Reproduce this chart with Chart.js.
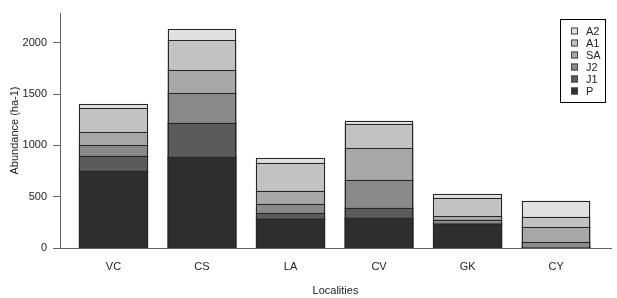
<!DOCTYPE html>
<html>
<head>
<meta charset="utf-8">
<script src="https://cdn.jsdelivr.net/npm/chart.js@4.4.1/dist/chart.umd.min.js"></script>
<style>
  html, body { margin: 0; padding: 0; background: #fff; }
  #wrap { width: 617px; height: 298px; position: relative; }
</style>
</head>
<body>
<div id="wrap"><canvas id="chart"></canvas></div>
<script>
// Localities on the x axis
const localities = ['VC', 'CS', 'LA', 'CV', 'GK', 'CY'];

// Abundance per stage (ha-1), bottom to top of each stack
const P  = [747, 884, 283, 289, 234, 0];
const J1 = [146, 331, 55, 98, 0, 0];
const J2 = [107, 292, 88, 273, 39, 56];
const SA = [127, 224, 129, 311, 36, 146];
const A1 = [234, 292, 273, 234, 175, 100];
const A2 = [39, 108, 46, 32, 39, 156];

const yTicks = [0, 500, 1000, 1500, 2000];

const stages = [
  { label: 'P',  values: P,  color: '#2e2e2e' },
  { label: 'J1', values: J1, color: '#5b5b5b' },
  { label: 'J2', values: J2, color: '#8a8a8a' },
  { label: 'SA', values: SA, color: '#a7a7a7' },
  { label: 'A1', values: A1, color: '#c2c2c2' },
  { label: 'A2', values: A2, color: '#e0e0e0' }
];

const textColor = '#222';
const fontBase = { family: "'Liberation Sans', Arial, sans-serif", size: 11 };

// Crisp 1px outline around every stacked segment
const segmentEdges = {
  id: 'segmentEdges',
  afterDatasetsDraw(chart) {
    const ctx = chart.ctx;
    ctx.save();
    ctx.strokeStyle = '#262626';
    ctx.lineWidth = 1;
    chart.data.datasets.forEach(function (ds, di) {
      chart.getDatasetMeta(di).data.forEach(function (bar) {
        if (Math.abs(bar.base - bar.y) < 0.5) return;
        const l = Math.round(bar.x - bar.width / 2) + 0.5;
        const r = Math.round(bar.x + bar.width / 2) - 0.5;
        const t = Math.round(bar.y) + 0.5;
        const b = Math.round(bar.base) + 0.5;
        ctx.strokeRect(l, t, r - l, b - t);
      });
    });
    ctx.restore();
  }
};

// Legend box drawn inside the plot, top right
const boxLegend = {
  id: 'boxLegend',
  afterDraw(chart) {
    const ctx = chart.ctx;
    const sets = chart.data.datasets.slice().reverse();
    const x0 = 560.5, y0 = 19.5, w = 45, h = 83;
    ctx.save();
    ctx.strokeStyle = '#000';
    ctx.lineWidth = 1;
    ctx.strokeRect(x0, y0, w, h);
    ctx.font = '11px ' + fontBase.family;
    ctx.textBaseline = 'middle';
    ctx.textAlign = 'left';
    sets.forEach(function (ds, i) {
      const cy = 31 + i * 12;
      ctx.fillStyle = ds.backgroundColor;
      ctx.fillRect(571, cy - 3.5, 7, 7);
      ctx.strokeStyle = '#444';
      ctx.strokeRect(571.5, cy - 3, 6, 6);
      ctx.fillStyle = textColor;
      ctx.fillText(ds.label, 586, cy + 0.5);
    });
    ctx.restore();
  }
};

const ctx = document.getElementById('chart').getContext('2d');
const myChart = new Chart(ctx, {
  type: 'bar',
  data: {
    datasets: stages.map(function (s) {
      return {
        label: s.label,
        data: s.values.map(function (v, i) { return { x: i, y: v }; }),
        backgroundColor: s.color,
        borderWidth: 0,
        inflateAmount: 0.5,
        categoryPercentage: 1,
        barPercentage: 0.773
      };
    })
  },
  options: {
    responsive: true,
    maintainAspectRatio: false,
    animation: false,
    layout: { padding: { left: 0, right: 6, top: 13, bottom: 0 } },
    plugins: {
      legend: { display: false },
      tooltip: { enabled: false }
    },
    scales: {
      x: {
        type: 'linear',
        stacked: true,
        offset: false,
        min: -0.604,
        max: 5.62,
        grid: { display: false },
        border: { display: true, color: '#666', width: 1, z: 1 },
        ticks: {
          stepSize: 1,
          includeBounds: false,
          autoSkip: false,
          maxRotation: 0,
          padding: 4,
          color: textColor,
          font: fontBase,
          callback: function (v) { return localities[v] !== undefined ? localities[v] : ''; }
        },
        title: {
          display: true,
          text: 'Localities',
          color: textColor,
          font: fontBase,
          padding: { top: 0, bottom: 0 }
        },
        afterFit: function (scale) { scale.height = 50; }
      },
      y: {
        stacked: true,
        min: 0,
        max: 2290,
        afterBuildTicks: function (scale) {
          scale.ticks = yTicks.map(function (v) { return { value: v }; });
        },
        grid: { drawOnChartArea: false, drawTicks: true, tickLength: 7, color: '#666' },
        border: { display: true, color: '#666', width: 1 },
        ticks: {
          padding: 6,
          color: textColor,
          font: fontBase,
          callback: function (v) { return String(v); }
        },
        title: {
          display: true,
          text: 'Abundance (ha-1)',
          color: textColor,
          font: fontBase,
          padding: { top: 8, bottom: 0 }
        },
        afterFit: function (scale) { scale.width = 60; }
      }
    }
  },
  plugins: [segmentEdges, boxLegend]
});
</script>
</body>
</html>
